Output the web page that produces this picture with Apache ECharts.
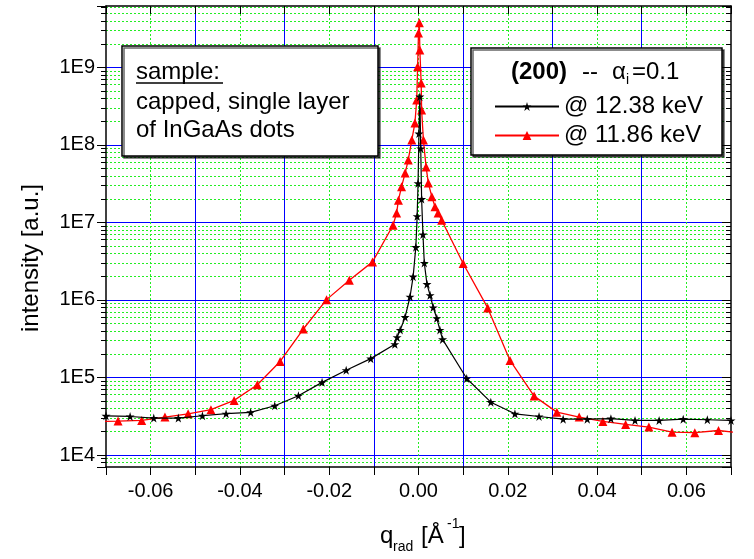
<!DOCTYPE html>
<html>
<head>
<meta charset="utf-8">
<script src="https://cdn.jsdelivr.net/npm/echarts@6.0.0/dist/echarts.min.js"></script>
<style>
html,body{margin:0;padding:0;background:#fff;}
#chart{width:754px;height:559px;}
</style>
</head>
<body>
<div id="chart"></div>
<script>
// @ 12.38 keV  (stars)
var qBlack = [-0.0700,-0.0646,-0.0593,-0.0538,-0.0484,-0.0431,-0.0376,-0.0322,-0.0269,-0.0216,-0.0162,-0.0107,-0.0053,
    -0.0048,-0.0041,-0.0030,-0.0019,-0.0012,-0.0006,-0.0003,-0.0001,0.0001,0.0003,0.0005,0.0007,0.0010,0.0013,
    0.0019,0.0026,0.0033,0.0041,0.0048,0.0054,0.0108,0.0162,0.0216,0.0270,0.0324,0.0378,0.0431,0.0485,0.0539,
    0.0593,0.0647,0.0700];
var iBlack = [3.2e4,3.14e4,2.99e4,2.99e4,3.21e4,3.41e4,3.54e4,4.32e4,5.82e4,8.65e4,1.24e5,1.75e5,2.68e5,
    3.3e5,4.1e5,6.0e5,1.1e6,2.0e6,4.8e6,1.2e7,3.2e7,1.4e8,4.2e8,9.0e7,2.0e7,7.0e6,3.0e6,
    1.6e6,1.15e6,8.0e5,5.8e5,4.1e5,3.1e5,9.7e4,4.8e4,3.4e4,3.14e4,2.9e4,2.9e4,2.94e4,2.79e4,2.79e4,
    2.9e4,2.85e4,2.79e4];

// @ 11.86 keV  (triangles)
var qRed = [-0.0735,-0.0673,-0.0620,-0.0568,-0.0516,-0.0465,-0.0413,-0.0361,-0.0310,-0.0258,-0.0206,-0.0155,-0.0103,
    -0.0057,-0.0049,-0.0045,-0.0038,-0.0030,-0.0023,-0.0015,-0.0008,-0.0004,-0.0002,0.0000,0.0002,0.0003,0.0006,
    0.0007,0.0011,0.0017,0.0022,0.0030,0.0037,0.0044,0.0052,0.0100,0.0155,0.0205,0.0259,0.0310,0.0360,0.0413,
    0.0464,0.0516,0.0568,0.0619,0.0672,0.0724];
var iRed = [2.7e4,2.74e4,2.79e4,3.08e4,3.40e4,3.84e4,5.06e4,8.07e4,1.61e5,4.22e5,1.01e6,1.80e6,3.10e6,
    9.2e6,1.32e7,1.94e7,2.88e7,4.33e7,6.38e7,1.16e8,1.92e8,3.8e8,1.02e9,2.79e9,3.76e9,1.68e9,6.3e8,
    2.82e8,1.16e8,5.2e7,3.22e7,2.14e7,1.59e7,1.32e7,1.07e7,2.95e6,7.9e5,1.66e5,5.75e4,3.57e4,3.08e4,2.71e4,
    2.48e4,2.29e4,1.97e4,1.94e4,2.07e4,1.92e4];

var fontName = 'Liberation Sans, Arial, sans-serif';
var starPath = 'path://M50,0L61.2,34.5L97.6,34.5L68.2,55.9L79.4,90.5L50,69.1L20.6,90.5L31.8,55.9L2.4,34.5L38.8,34.5Z';

function pairs(q, v) {
    var out = [];
    for (var i = 0; i < q.length; i++) out.push([q[i], v[i]]);
    return out;
}
function fmtX(v) {
    var n = Math.round(v * 100);
    if (n % 2 !== 0) return '';
    return (n / 100).toFixed(2);
}
function fmtY(v) {
    var e = Math.log(v) / Math.LN10;
    if (Math.abs(e - Math.round(e)) > 1e-6) return '';
    return '1E' + Math.round(e);
}
function txt(x, y, s, size, extra) {
    var st = {x: x, y: y, text: s, fontSize: size, fontFamily: fontName, fill: '#000',
        textAlign: 'left', textVerticalAlign: 'middle'};
    if (extra) for (var k in extra) st[k] = extra[k];
    return {type: 'text', z: 12, style: st};
}

var myChart = echarts.init(document.getElementById('chart'));
var option = {
    animation: false,
    backgroundColor: '#fff',
    textStyle: {fontFamily: fontName},
    grid: {left: 106, right: 23, top: 6, bottom: 92},
    legend: {
        data: ['@ 12.38 keV', '@ 11.86 keV'],
        orient: 'vertical',
        left: 489,
        top: 88,
        z: 20,
        itemWidth: 64,
        itemHeight: 11,
        itemGap: 2,
        selectedMode: false,
        textStyle: {fontSize: 24, lineHeight: 27, color: '#000', fontFamily: fontName}
    },
    xAxis: [{
        type: 'value', position: 'bottom', min: -0.07, max: 0.07, interval: 0.01,
        axisLine: {show: true, onZero: false, lineStyle: {color: '#000', width: 1.5}},
        axisTick: {show: true, inside: false, length: 8, lineStyle: {color: '#000', width: 1}},
        axisLabel: {margin: 14, fontSize: 20, color: '#000', formatter: fmtX},
        splitLine: {show: true, showMinLine: false, showMaxLine: false,
            lineStyle: {color: '#22ee22', type: [2, 2], width: 1}}
    }, {
        type: 'value', position: 'top', min: -0.07, max: 0.07, interval: 0.01,
        axisLine: {show: true, onZero: false, lineStyle: {color: '#000', width: 1.5}},
        axisTick: {show: true, inside: true, length: 8, lineStyle: {color: '#000', width: 1}},
        axisLabel: {show: false},
        splitLine: {show: true, showMinLine: false, showMaxLine: false,
            lineStyle: {color: ['rgba(0,0,0,0)', '#0000ff'], type: 'solid', width: 1}}
    }],
    yAxis: [{
        type: 'log', logBase: 10, position: 'left', min: 7000, max: 6.2e9,
        axisLine: {show: true, onZero: false, lineStyle: {color: '#000', width: 1.5}},
        axisTick: {show: true, inside: false, length: 9, lineStyle: {color: '#000', width: 1}},
        minorTick: {show: true, splitNumber: 9, length: 5, lineStyle: {color: '#000', width: 1}},
        axisLabel: {margin: 11, fontSize: 20, color: '#000', formatter: fmtY},
        splitLine: {show: true, showMinLine: false, showMaxLine: false,
            lineStyle: {color: '#0000ff', width: 1}},
        minorSplitLine: {show: true, lineStyle: {color: '#22ee22', type: [2, 2], width: 1}}
    }, {
        type: 'log', logBase: 10, position: 'right', min: 7000, max: 6.2e9,
        axisLine: {show: true, onZero: false, lineStyle: {color: '#000', width: 1.5}},
        axisTick: {show: true, inside: true, length: 9, lineStyle: {color: '#000', width: 1}},
        minorTick: {show: true, splitNumber: 9, length: 5, lineStyle: {color: '#000', width: 1}},
        axisLabel: {show: false},
        splitLine: {show: false}
    }],
    series: [{
        name: '@ 11.86 keV',
        type: 'line',
        data: pairs(qRed, iRed),
        symbol: 'triangle',
        symbolSize: 9,
        itemStyle: {color: '#ff0000'},
        lineStyle: {color: '#ff0000', width: 1.3},
        z: 2
    }, {
        name: '@ 12.38 keV',
        type: 'line',
        data: pairs(qBlack, iBlack),
        symbol: starPath,
        symbolSize: 9,
        itemStyle: {color: '#000'},
        lineStyle: {color: '#000', width: 1.2},
        z: 3
    }],
    graphic: {elements: [
        // sample box
        {type: 'rect', z: 10, shape: {x: 122, y: 46, width: 256, height: 110},
            style: {fill: '#fff', stroke: '#000', lineWidth: 1.5,
                shadowColor: 'rgba(0,0,0,0.6)', shadowOffsetX: 2, shadowOffsetY: 2}},
        txt(136, 72, 'sample:', 24),
        {type: 'line', z: 12, shape: {x1: 136, y1: 83, x2: 223, y2: 83}, style: {stroke: '#000', lineWidth: 1.5}},
        txt(136, 102, 'capped, single layer', 24),
        txt(136, 130, 'of InGaAs dots', 24),
        // legend box
        {type: 'rect', z: 10, shape: {x: 471, y: 48, width: 251, height: 107},
            style: {fill: '#fff', stroke: '#000', lineWidth: 1.5,
                shadowColor: 'rgba(0,0,0,0.6)', shadowOffsetX: 2, shadowOffsetY: 2}},
        txt(511, 72, '(200)', 24, {fontWeight: 'bold'}),
        txt(582, 72, '--', 24),
        txt(612, 72, 'α', 24),
        txt(626, 80, 'i', 14),
        txt(632, 72, '=0.1', 24),
        // axis titles
        {type: 'text', z: 12, x: 31, y: 258, rotation: Math.PI / 2,
            style: {x: 0, y: 0, text: 'intensity [a.u.]', fontSize: 24, fontFamily: fontName, fill: '#000',
                textAlign: 'center', textVerticalAlign: 'middle'}},
        txt(380, 536, 'q', 24),
        txt(393, 547, 'rad', 14),
        txt(421, 536, '[Å', 24),
        txt(447, 524, '-1', 14),
        txt(459, 536, ']', 24)
    ]}
};
myChart.setOption(option);
</script>
</body>
</html>
